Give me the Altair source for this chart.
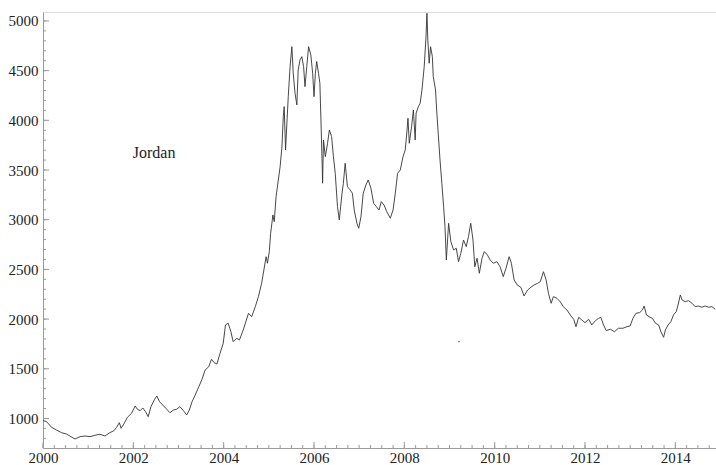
import altair as alt
import numpy as np
import pandas as pd

# Jordan stock index, decimal year vs. index level
years = [
    2000.00, 2000.08, 2000.19, 2000.30, 2000.41, 2000.52, 2000.64, 2000.71, 2000.82, 2000.93,
    2001.04, 2001.15, 2001.26, 2001.37, 2001.48, 2001.57, 2001.63, 2001.69, 2001.73, 2001.79,
    2001.87, 2001.96, 2002.04, 2002.09, 2002.15, 2002.21, 2002.27, 2002.33, 2002.39, 2002.47,
    2002.52, 2002.58, 2002.65, 2002.72, 2002.81, 2002.89, 2002.96, 2003.03, 2003.11, 2003.18,
    2003.24, 2003.30, 2003.37, 2003.45, 2003.52, 2003.59, 2003.67, 2003.73, 2003.79, 2003.85,
    2003.92, 2003.99, 2004.04, 2004.10, 2004.16, 2004.21, 2004.29, 2004.35, 2004.44, 2004.55,
    2004.62, 2004.70, 2004.77, 2004.84, 2004.89, 2004.94, 2004.97, 2005.01, 2005.04, 2005.09,
    2005.12, 2005.16, 2005.21, 2005.25, 2005.29, 2005.32, 2005.34, 2005.37, 2005.40, 2005.43,
    2005.47, 2005.51, 2005.54, 2005.58, 2005.62, 2005.65, 2005.69, 2005.73, 2005.77, 2005.80,
    2005.84, 2005.88, 2005.93, 2005.97, 2006.00, 2006.03, 2006.06, 2006.10, 2006.13, 2006.16,
    2006.18, 2006.19, 2006.21, 2006.25, 2006.30, 2006.34, 2006.39, 2006.43, 2006.47, 2006.52,
    2006.56, 2006.62, 2006.65, 2006.69, 2006.74, 2006.80, 2006.85, 2006.89, 2006.95, 2006.99,
    2007.04, 2007.09, 2007.15, 2007.20, 2007.26, 2007.32, 2007.38, 2007.44, 2007.49, 2007.55,
    2007.61, 2007.69, 2007.75, 2007.80, 2007.85, 2007.91, 2007.97, 2008.02, 2008.06, 2008.08,
    2008.11, 2008.16, 2008.20, 2008.24, 2008.26, 2008.31, 2008.35, 2008.39, 2008.44, 2008.48,
    2008.50, 2008.52, 2008.55, 2008.58, 2008.62, 2008.64, 2008.69, 2008.72, 2008.75, 2008.79,
    2008.83, 2008.87, 2008.90, 2008.93, 2008.98, 2009.03, 2009.09, 2009.15, 2009.20, 2009.25,
    2009.31, 2009.37, 2009.42, 2009.47, 2009.52, 2009.56, 2009.61, 2009.66, 2009.72, 2009.77,
    2009.84, 2009.90, 2009.97, 2010.05, 2010.12, 2010.19, 2010.25, 2010.32, 2010.37, 2010.43,
    2010.50, 2010.58, 2010.65, 2010.73, 2010.80, 2010.87, 2010.95, 2011.01, 2011.08, 2011.14,
    2011.19, 2011.25, 2011.30, 2011.38, 2011.45, 2011.52, 2011.60, 2011.69, 2011.75, 2011.80,
    2011.86, 2011.93, 2012.00, 2012.08, 2012.15, 2012.23, 2012.30, 2012.35, 2012.41, 2012.47,
    2012.56, 2012.65, 2012.74, 2012.84, 2012.93, 2013.00, 2013.06, 2013.13, 2013.21, 2013.27,
    2013.31, 2013.36, 2013.42, 2013.49, 2013.56, 2013.63, 2013.68, 2013.74, 2013.78, 2013.84,
    2013.90, 2013.96, 2014.02, 2014.06, 2014.11, 2014.15, 2014.22, 2014.29, 2014.37, 2014.44,
    2014.51, 2014.59, 2014.66, 2014.74, 2014.81, 2014.88,
]
index_level = [
    980, 968, 911, 884, 857, 844, 811, 794, 817, 824,
    817, 831, 841, 824, 857, 877, 911, 958, 901, 945,
    1012, 1052, 1126, 1093, 1078, 1106, 1068, 1018, 1119, 1193,
    1226, 1169, 1136, 1103, 1058, 1085, 1093, 1119, 1078, 1035,
    1085, 1169, 1236, 1320, 1394, 1488, 1521, 1596, 1562, 1548,
    1656, 1757, 1941, 1958, 1873, 1773, 1807, 1790, 1900, 2059,
    2024, 2125, 2226, 2360, 2494, 2628, 2562, 2679, 2864, 3048,
    2980, 3232, 3400, 3534, 3735, 4037, 4138, 3702, 3971, 4238,
    4540, 4741, 4474, 4273, 4155, 4507, 4608, 4641, 4540, 4339,
    4540, 4741, 4658, 4474, 4238, 4474, 4591, 4474, 4373, 3903,
    3568, 3367, 3803, 3634, 3769, 3903, 3836, 3634, 3467, 3131,
    2998, 3266, 3367, 3568, 3333, 3299, 3266, 3098, 2964, 2914,
    3031, 3266, 3350, 3400, 3317, 3166, 3131, 3098, 3182, 3148,
    3081, 3015, 3098, 3266, 3467, 3500, 3634, 3702, 3903, 4021,
    3769, 3936, 4104, 3803, 4071, 4138, 4172, 4306, 4540, 4842,
    5077, 4808, 4574, 4741, 4641, 4440, 4306, 4071, 3870, 3601,
    3367, 3131, 2930, 2595, 2964, 2779, 2696, 2713, 2578, 2662,
    2796, 2729, 2830, 2964, 2796, 2527, 2612, 2461, 2612, 2679,
    2645, 2595, 2562, 2578, 2527, 2427, 2511, 2628, 2562, 2394,
    2343, 2320, 2233, 2293, 2320, 2343, 2360, 2377, 2477, 2394,
    2260, 2159, 2226, 2209, 2175, 2125, 2092, 2031, 1998, 1924,
    2018, 1991, 1964, 1998, 1941, 1984, 2008, 2018, 1941, 1884,
    1898, 1873, 1908, 1908, 1924, 1931, 2008, 2059, 2065, 2092,
    2132, 2042, 2024, 2008, 1958, 1941, 1873, 1817, 1891, 1941,
    1974, 2042, 2075, 2142, 2243, 2192, 2175, 2186, 2159, 2125,
    2132, 2119, 2132, 2119, 2125, 2099,
]

# isolated stray observation
stray_year = [2009.21]
stray_level = [1773]

# axis ticks
x_major = list(range(2000, 2015, 2))
x_minor = [y / 4 for y in range(8000, 8060)]
y_major = [1000, 1500, 2000, 2500, 3000, 3500, 4000, 4500, 5000]
y_minor = list(range(800, 5100, 100))

label_text = ["Jordan"]
label_year = [2002.46]
label_level = [3670]

X_DOMAIN = [2000, 2014.9]
Y_DOMAIN = [703, 5090]
W, H = 673, 436
FONT = "Liberation Serif"
AXIS_GRAY = "#9a9a9a"

xs = alt.Scale(domain=X_DOMAIN, nice=False, zero=False)
ys = alt.Scale(domain=Y_DOMAIN, nice=False, zero=False)

series = pd.DataFrame({"year": years, "level": index_level})

line = alt.Chart(series).mark_line(color="#333333", strokeWidth=0.9).encode(
    x=alt.X("year:Q", scale=xs, axis=alt.Axis(
        values=x_major, format="d", ticks=False, grid=False,
        domainColor=AXIS_GRAY, domainWidth=1, labelFlush=False,
        labelFont=FONT, labelFontSize=15, labelColor="#222",
        labelPadding=2, title=None)),
    y=alt.Y("level:Q", scale=ys, axis=alt.Axis(
        values=y_major, format="d", ticks=False, grid=False,
        domainColor=AXIS_GRAY, domainWidth=1, labelFlush=False,
        labelFont=FONT, labelFontSize=15, labelColor="#222",
        labelPadding=5, title=None)),
)

stray = alt.Chart(pd.DataFrame({"year": stray_year, "level": stray_level})).mark_square(
    size=2, color="#555", opacity=0.9
).encode(x=alt.X("year:Q", scale=xs), y=alt.Y("level:Q", scale=ys))

# inward-pointing ticks
xminor = alt.Chart(pd.DataFrame({"t": x_minor})).mark_rule(color=AXIS_GRAY, strokeWidth=1).encode(
    x=alt.X("t:Q", scale=xs), y=alt.value(H), y2=alt.value(H - 3))
xmajor = alt.Chart(pd.DataFrame({"t": x_major})).mark_rule(color=AXIS_GRAY, strokeWidth=1).encode(
    x=alt.X("t:Q", scale=xs), y=alt.value(H), y2=alt.value(H - 6))
yminor = alt.Chart(pd.DataFrame({"t": y_minor})).mark_rule(color=AXIS_GRAY, strokeWidth=1).encode(
    y=alt.Y("t:Q", scale=ys), x=alt.value(0), x2=alt.value(3))
ymajor = alt.Chart(pd.DataFrame({"t": y_major})).mark_rule(color=AXIS_GRAY, strokeWidth=1).encode(
    y=alt.Y("t:Q", scale=ys), x=alt.value(0), x2=alt.value(6))

label = alt.Chart(pd.DataFrame({"txt": label_text, "year": label_year, "level": label_level})).mark_text(
    font=FONT, fontSize=16, color="#222", align="center", baseline="middle"
).encode(x=alt.X("year:Q", scale=xs), y=alt.Y("level:Q", scale=ys), text="txt:N")

chart = alt.layer(xminor, xmajor, yminor, ymajor, line, stray, label).properties(
    width=W, height=H,
    padding={"left": 43, "top": 12, "right": 0, "bottom": 17},
    autosize="none",
).configure_view(stroke=None).configure(background="white")

chart.save("out.html", embed_options={"renderer": "svg", "actions": False})
